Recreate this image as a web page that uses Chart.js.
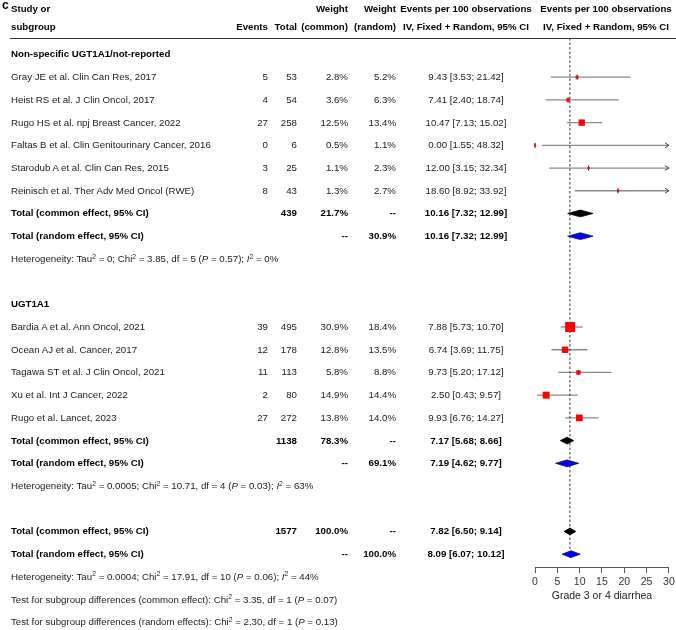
<!DOCTYPE html>
<html><head><meta charset="utf-8">
<script src="https://cdn.jsdelivr.net/npm/chart.js@4.4.1/dist/chart.umd.min.js"></script>
<style>
html,body{margin:0;padding:0;background:#fff;}
#wrap{position:relative;width:676px;height:630px;overflow:hidden;background:#fff;}
#c{position:absolute;left:0;top:0;}
#overlay{position:absolute;left:0;top:0;width:676px;height:630px;pointer-events:none;}
.t{position:absolute;white-space:nowrap;font-family:'Liberation Sans',Arial,Helvetica,sans-serif;font-size:9.7px;line-height:1;color:#1a1a1a;}
.b{font-weight:bold;color:#000;}
.t sup{font-size:70%;line-height:0;vertical-align:0;position:relative;top:-0.5em;}
.rule{position:absolute;height:0;border-top:1px solid #333;}
</style></head>
<body><div id="wrap"><canvas id="c" width="676" height="630"></canvas><div id="overlay"></div></div>
<script>
// ---------------- DATA ----------------
const subgroups = ["Non-specific UGT1A1/not-reported", "UGT1A1"];
const studies = [
  "Gray JE et al. Clin Can Res, 2017",
  "Heist RS et al. J Clin Oncol, 2017",
  "Rugo HS et al. npj Breast Cancer, 2022",
  "Faltas B et al. Clin Genitourinary Cancer, 2016",
  "Starodub A et al. Clin Can Res, 2015",
  "Reinisch et al. Ther Adv Med Oncol (RWE)",
  "Bardia A et al. Ann Oncol, 2021",
  "Ocean AJ et al. Cancer, 2017",
  "Tagawa ST et al. J Clin Oncol, 2021",
  "Xu et al. Int J Cancer, 2022",
  "Rugo et al. Lancet, 2023"
];
const studyGroup   = [0, 0, 0, 0, 0, 0, 1, 1, 1, 1, 1];
const events       = [5, 4, 27, 0, 3, 8, 39, 12, 11, 2, 27];
const totals       = [53, 54, 258, 6, 25, 43, 495, 178, 113, 80, 272];
const weightCommon = [2.8, 3.6, 12.5, 0.5, 1.1, 1.3, 30.9, 12.8, 5.8, 14.9, 13.8];
const weightRandom = [5.2, 6.3, 13.4, 1.1, 2.3, 2.7, 18.4, 13.5, 8.8, 14.4, 14.0];
const estimate     = [9.43, 7.41, 10.47, 0.00, 12.00, 18.60, 7.88, 6.74, 9.73, 2.50, 9.93];
const lower        = [3.53, 2.40, 7.13, 1.55, 3.15, 8.92, 5.73, 3.69, 5.20, 0.43, 6.76];
const upper        = [21.42, 18.74, 15.02, 48.32, 32.34, 33.92, 10.70, 11.75, 17.12, 9.57, 14.27];

// summary rows: group 0, group 1, overall (2)
const summaryLabels       = ["Total (common effect, 95% CI)", "Total (random effect, 95% CI)",
                             "Total (common effect, 95% CI)", "Total (random effect, 95% CI)",
                             "Total (common effect, 95% CI)", "Total (random effect, 95% CI)"];
const summaryGroup        = [0, 0, 1, 1, 2, 2];
const summaryModel        = ["common", "random", "common", "random", "common", "random"];
const summaryTotal        = [439, null, 1138, null, 1577, null];
const summaryWeightCommon = [21.7, null, 78.3, null, 100.0, null];
const summaryWeightRandom = [null, 30.9, null, 69.1, null, 100.0];
const summaryEst          = [10.16, 10.16, 7.17, 7.19, 7.82, 8.09];
const summaryLower        = [7.32, 7.32, 5.68, 4.62, 6.50, 6.07];
const summaryUpper        = [12.99, 12.99, 8.66, 9.77, 9.14, 10.12];

// heterogeneity: group 0, group 1, overall
const hetTau2 = [0, 0.0005, 0.0004];
const hetChi2 = [3.85, 10.71, 17.91];
const hetDf   = [5, 4, 10];
const hetP    = [0.57, 0.03, 0.06];
const hetI2   = [0, 63, 44];

// subgroup difference tests
const testLabels = ["common effect", "random effects"];
const testChi2   = [3.35, 2.30];
const testDf     = [1, 1];
const testP      = [0.07, 0.13];

const xTicks = [0, 5, 10, 15, 20, 25, 30];
const xTitle = "Grade 3 or 4 diarrhea";

// ---------------- LAYOUT ----------------
const W = 676, H = 630;
const FIRST_ROW_PX = 48, PITCH = 23, AXIS_PX = 567;
const PLOT_LEFT = 535, PLOT_RIGHT_PAD = 5;
const COL = { label: 11, events: 268, total: 297, wc: 348, wr: 396, ci: 466, plotHead: 606 };
const HEAD1 = 9, HEAD2 = 27, RULE_Y = 38;

// row indices
const rows = [];
let r = 0;
const studyRow = [], summaryRow = [], hetRow = [], testRow = [];
subgroups.forEach((g, gi) => {
  rows.push({ type: 'subgroup', gi, row: r++ });
  studies.forEach((s, i) => { if (studyGroup[i] === gi) { studyRow[i] = r; rows.push({ type: 'study', i, row: r++ }); } });
  summaryLabels.forEach((s, k) => { if (summaryGroup[k] === gi) { summaryRow[k] = r; rows.push({ type: 'summary', k, row: r++ }); } });
  hetRow[gi] = r; rows.push({ type: 'het', h: gi, row: r++ });
  r++;
});
summaryLabels.forEach((s, k) => { if (summaryGroup[k] === 2) { summaryRow[k] = r; rows.push({ type: 'summary', k, row: r++ }); } });
hetRow[2] = r; rows.push({ type: 'het', h: 2, row: r++ });
testLabels.forEach((t, k) => { testRow[k] = r; rows.push({ type: 'test', k, row: r++ }); });

const squareSide = w => Math.max(2.2, 1.8 * Math.sqrt(w));

// ---------------- PLUGIN ----------------
const forestPlugin = {
  id: 'forest',
  beforeDatasetsDraw(chart) {
    const { ctx, scales: { x, y } } = chart;
    ctx.save();
    ctx.strokeStyle = '#8a8a8a';
    ctx.lineWidth = 1.3;
    studies.forEach((s, i) => {
      const yy = y.getPixelForValue(studyRow[i]);
      const lo = Math.max(lower[i], x.min), hi = Math.min(upper[i], x.max);
      const x1 = x.getPixelForValue(lo), x2 = x.getPixelForValue(hi);
      ctx.beginPath(); ctx.moveTo(x1, yy); ctx.lineTo(x2, yy); ctx.stroke();
      if (upper[i] > x.max) {
        ctx.save(); ctx.strokeStyle = '#444'; ctx.lineWidth = 1;
        ctx.beginPath(); ctx.moveTo(x2 - 4, yy - 2.5); ctx.lineTo(x2, yy); ctx.lineTo(x2 - 4, yy + 2.5); ctx.stroke();
        ctx.restore();
      }
      if (lower[i] < x.min) {
        ctx.save(); ctx.strokeStyle = '#444'; ctx.lineWidth = 1;
        ctx.beginPath(); ctx.moveTo(x1 + 4, yy - 2.5); ctx.lineTo(x1, yy); ctx.lineTo(x1 + 4, yy + 2.5); ctx.stroke();
        ctx.restore();
      }
    });
    const kc = summaryGroup.findIndex((g, k) => g === 2 && summaryModel[k] === 'common');
    const xr = x.getPixelForValue(summaryEst[kc]);
    const yBottom = y.getPixelForValue(summaryRow[kc + 1]) + 5;
    ctx.strokeStyle = '#333';
    ctx.lineWidth = 1;
    ctx.setLineDash([2.5, 2]);
    ctx.beginPath(); ctx.moveTo(xr, RULE_Y); ctx.lineTo(xr, yBottom); ctx.stroke();
    ctx.restore();
  },
  afterDatasetsDraw(chart) {
    const { ctx, scales: { x, y } } = chart;
    ctx.save();
    summaryEst.forEach((e, k) => {
      const yy = y.getPixelForValue(summaryRow[k]);
      const xl = x.getPixelForValue(summaryLower[k]);
      const xe = x.getPixelForValue(e);
      const xh = x.getPixelForValue(summaryUpper[k]);
      const hh = 3.4;
      ctx.beginPath();
      ctx.moveTo(xl, yy); ctx.lineTo(xe, yy - hh); ctx.lineTo(xh, yy); ctx.lineTo(xe, yy + hh); ctx.closePath();
      ctx.fillStyle = summaryModel[k] === 'common' ? '#000000' : '#0000ff';
      ctx.fill();
      ctx.strokeStyle = summaryModel[k] === 'common' ? '#000' : '#101040';
      ctx.lineWidth = 0.8;
      ctx.stroke();
    });
    ctx.restore();
  }
};

// ---------------- CHART ----------------
const ctx = document.getElementById('c').getContext('2d');
const chart = new Chart(ctx, {
  type: 'scatter',
  data: {
    datasets: [
      {
        label: 'estimate',
        data: studies.map((s, i) => ({ x: estimate[i], y: studyRow[i] })),
        pointStyle: 'rect',
        pointRadius: weightCommon.map(w => squareSide(w) / Math.SQRT2),
        backgroundColor: '#ff0000',
        borderColor: '#ff0000',
        pointBorderWidth: 0,
        clip: false
      },
      {
        label: 'tick',
        data: studies.map((s, i) => ({ x: estimate[i], y: studyRow[i] })),
        pointStyle: 'line',
        rotation: 90,
        pointRadius: weightCommon.map(w => Math.max(2.5, squareSide(w) * 0.35)),
        borderColor: '#000',
        pointBorderWidth: 1,
        clip: false
      }
    ]
  },
  options: {
    responsive: false,
    animation: false,
    events: [],
    layout: { padding: { left: PLOT_LEFT, right: PLOT_RIGHT_PAD, top: 0, bottom: 0 } },
    plugins: { legend: { display: false }, tooltip: { enabled: false } },
    scales: {
      x: {
        type: 'linear',
        min: xTicks[0], max: xTicks[xTicks.length - 1],
        afterBuildTicks: s => { s.ticks = xTicks.map(v => ({ value: v })); },
        ticks: { font: { family: "'Liberation Sans', Arial, sans-serif", size: 10.5 }, color: '#333', padding: 3, maxRotation: 0 },
        grid: { display: true, drawOnChartArea: false, drawTicks: true, tickLength: 6, color: '#555', lineWidth: 1 },
        border: { display: true, color: '#555', width: 1 },
        title: { display: true, text: xTitle, font: { family: "'Liberation Sans', Arial, sans-serif", size: 10.5 }, color: '#222', padding: { top: 0, bottom: 28 } },
        afterFit: s => { s.height = H - AXIS_PX; s.paddingLeft = 0; s.paddingRight = 0; }
      },
      y: {
        type: 'linear',
        reverse: true,
        display: false,
        min: -FIRST_ROW_PX / PITCH,
        max: (AXIS_PX - FIRST_ROW_PX) / PITCH
      }
    }
  },
  plugins: [forestPlugin]
});

// ---------------- TEXT TABLE ----------------
const overlay = document.getElementById('overlay');
function put(html, x, y, align, bold, size) {
  const d = document.createElement('div');
  d.className = 't' + (bold ? ' b' : '');
  d.innerHTML = html;
  d.style.top = y + 'px';
  if (size) d.style.fontSize = size + 'px';
  if (align === 'left') { d.style.left = x + 'px'; d.style.transform = 'translateY(-50%)'; }
  else if (align === 'right') { d.style.right = (W - x) + 'px'; d.style.transform = 'translateY(-50%)'; }
  else { d.style.left = x + 'px'; d.style.transform = 'translate(-50%,-50%)'; }
  overlay.appendChild(d);
}
const yOf = row => chart.scales.y.getPixelForValue(row);
const ciText = (e, l, u) => `${e.toFixed(2)} [${l.toFixed(2)}; ${u.toFixed(2)}]`;
const pct = v => v == null ? '--' : v.toFixed(1) + '%';

put('c', 2, 5, 'left', true, 12);
put('Study or', COL.label, HEAD1, 'left', true);
put('subgroup', COL.label, HEAD2, 'left', true);
put('Events', COL.events, HEAD2, 'right', true);
put('Total', COL.total, HEAD2, 'right', true);
put('Weight', COL.wc, HEAD1, 'right', true);
put('(common)', COL.wc, HEAD2, 'right', true);
put('Weight', COL.wr, HEAD1, 'right', true);
put('(random)', COL.wr, HEAD2, 'right', true);
put('Events per 100 observations', COL.ci, HEAD1, 'center', true);
put('IV, Fixed + Random, 95% CI', COL.ci, HEAD2, 'center', true);
put('Events per 100 observations', COL.plotHead, HEAD1, 'center', true);
put('IV, Fixed + Random, 95% CI', COL.plotHead, HEAD2, 'center', true);
const rule = document.createElement('div');
rule.className = 'rule';
rule.style.left = '10px'; rule.style.width = (W - 10) + 'px'; rule.style.top = RULE_Y + 'px';
overlay.appendChild(rule);

rows.forEach(rw => {
  const y = yOf(rw.row);
  if (rw.type === 'subgroup') {
    put(subgroups[rw.gi], COL.label, y, 'left', true);
  } else if (rw.type === 'study') {
    const i = rw.i;
    put(studies[i], COL.label, y, 'left', false);
    put(String(events[i]), COL.events, y, 'right', false);
    put(String(totals[i]), COL.total, y, 'right', false);
    put(pct(weightCommon[i]), COL.wc, y, 'right', false);
    put(pct(weightRandom[i]), COL.wr, y, 'right', false);
    put(ciText(estimate[i], lower[i], upper[i]), COL.ci, y, 'center', false);
  } else if (rw.type === 'summary') {
    const k = rw.k;
    put(summaryLabels[k], COL.label, y, 'left', true);
    if (summaryTotal[k] != null) put(String(summaryTotal[k]), COL.total, y, 'right', true);
    put(pct(summaryWeightCommon[k]), COL.wc, y, 'right', true);
    put(pct(summaryWeightRandom[k]), COL.wr, y, 'right', true);
    put(ciText(summaryEst[k], summaryLower[k], summaryUpper[k]), COL.ci, y, 'center', true);
  } else if (rw.type === 'het') {
    const h = rw.h;
    put(`Heterogeneity: Tau<sup>2</sup> = ${String(hetTau2[h])}; Chi<sup>2</sup> = ${hetChi2[h].toFixed(2)}, df = ${hetDf[h]} (<i>P</i> = ${hetP[h].toFixed(2)}); <i>I</i><sup>2</sup> = ${hetI2[h]}%`, COL.label, y, 'left', false);
  } else if (rw.type === 'test') {
    const k = rw.k;
    put(`Test for subgroup differences (${testLabels[k]}): Chi<sup>2</sup> = ${testChi2[k].toFixed(2)}, df = ${testDf[k]} (<i>P</i> = ${testP[k].toFixed(2)})`, COL.label, y, 'left', false);
  }
});
</script></body></html>
